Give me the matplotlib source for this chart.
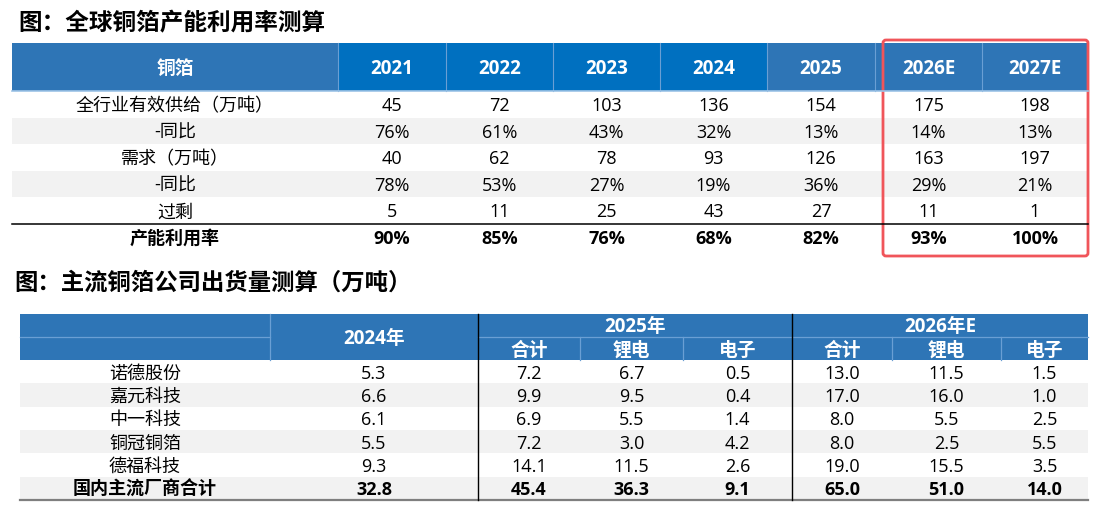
import matplotlib
matplotlib.use('Agg')
import matplotlib.pyplot as plt
from matplotlib.patches import Rectangle, FancyBboxPatch

# latin glyphs from Open Sans, chinese falls back to Noto CJK
plt.rcParams['font.family'] = ['Open Sans', 'Noto Sans CJK SC', 'DejaVu Sans']

# ---- table 1 data: global copper foil capacity utilisation
t1_title = '图：全球铜箔产能利用率测算'
t1_corner = '铜箔'
t1_years = ['2021', '2022', '2023', '2024', '2025', '2026E', '2027E']
t1_rows = ['全行业有效供给（万吨）', '-同比', '需求（万吨）', '-同比', '过剩', '产能利用率']
supply = [45, 72, 103, 136, 154, 175, 198]
supply_yoy = [76, 61, 43, 32, 13, 14, 13]
demand = [40, 62, 78, 93, 126, 163, 197]
demand_yoy = [78, 53, 27, 19, 36, 29, 21]
surplus = [5, 11, 25, 43, 27, 11, 1]
utilization = [90, 85, 76, 68, 82, 93, 100]

# ---- table 2 data: shipments of main copper foil companies (万吨)
t2_title = '图：主流铜箔公司出货量测算（万吨）'
companies = ['诺德股份', '嘉元科技', '中一科技', '铜冠铜箔', '德福科技', '国内主流厂商合计']
t2_groups = ['2024年', '2025年', '2026年E']
t2_sub = ['合计', '锂电', '电子']
ship_2024 = [5.3, 6.6, 6.1, 5.5, 9.3, 32.8]
total_2025 = [7.2, 9.9, 6.9, 7.2, 14.1, 45.4]
li_2025 = [6.7, 9.5, 5.5, 3.0, 11.5, 36.3]
elec_2025 = [0.5, 0.4, 1.4, 4.2, 2.6, 9.1]
total_2026 = [13.0, 17.0, 8.0, 8.0, 19.0, 65.0]
li_2026 = [11.5, 16.0, 5.5, 2.5, 15.5, 51.0]
elec_2026 = [1.5, 1.0, 2.5, 5.5, 3.5, 14.0]

HDR = '#2E75B6'
HDR_BRIGHT = '#0070C0'
SEP = '#6A9FD4'
GRAY = '#F2F2F2'

fig = plt.figure(figsize=(10.96, 5.09), dpi=100)
ax = fig.add_axes([0, 0, 1, 1])
ax.set_xlim(0, 1096)
ax.set_ylim(509, 0)
ax.axis('off')


def cell_text(x, y, s, bold=False, color='black', size=13):
    ax.text(x, y, s, ha='center', va='center', fontsize=size, color=color,
            fontweight='bold' if bold else 'normal')


# ================= table 1 =================
ax.text(18, 24, t1_title, ha='left', va='center', fontsize=17, fontweight='bold')

edges1 = [12, 338, 446, 553, 660, 767, 875, 982, 1088]
h_top, h_bot = 43, 91
row_h = 26.5

for i in range(len(edges1) - 1):
    c = HDR_BRIGHT if 1 <= i <= 4 else HDR
    ax.add_patch(Rectangle((edges1[i], h_top), edges1[i + 1] - edges1[i], h_bot - h_top,
                           facecolor=c, edgecolor='none'))
    if i > 0:
        ax.plot([edges1[i], edges1[i]], [h_top, h_bot], color=SEP, lw=0.8)
ax.plot([edges1[0], edges1[-1]], [h_bot, h_bot], color='#9DC3E6', lw=1.2)

headers1 = [t1_corner] + t1_years
for i, s in enumerate(headers1):
    cell_text((edges1[i] + edges1[i + 1]) / 2, (h_top + h_bot) / 2 + 2, s,
              bold=True, color='white', size=13.5)

body1 = [
    [str(v) for v in supply],
    ['%d%%' % v for v in supply_yoy],
    [str(v) for v in demand],
    ['%d%%' % v for v in demand_yoy],
    [str(v) for v in surplus],
    ['%d%%' % v for v in utilization],
]

for r, label in enumerate(t1_rows):
    y0 = h_bot + r * row_h
    if r in (1, 3):
        ax.add_patch(Rectangle((edges1[0], y0), edges1[-1] - edges1[0], row_h,
                               facecolor=GRAY, edgecolor='none'))
    bold = r == len(t1_rows) - 1
    yc = y0 + row_h / 2 + 2
    cell_text((edges1[0] + edges1[1]) / 2, yc, label, bold=bold)
    for c, s in enumerate(body1[r]):
        cell_text((edges1[c + 1] + edges1[c + 2]) / 2, yc, s, bold=bold)

line_y = h_bot + 5 * row_h
ax.plot([edges1[0], edges1[-1]], [line_y, line_y], color='black', lw=1.1)

# red highlight around the forecast years
ax.add_patch(FancyBboxPatch((883, 40), 205, 216, boxstyle='round,pad=0,rounding_size=3',
                            facecolor='none', edgecolor='#F0555A', lw=2.0))

# ================= table 2 =================
ax.text(14, 284, t2_title, ha='left', va='center', fontsize=16.8, fontweight='bold')

edges2 = [20, 270, 478, 580, 683, 792, 892, 1001, 1088]
t2_top, t2_mid, t2_bot = 314, 337, 360
row_h2 = 23.3

ax.add_patch(Rectangle((edges2[0], t2_top), edges2[-1] - edges2[0], t2_bot - t2_top,
                       facecolor=HDR, edgecolor='none'))
# light separators in the header
ax.plot([edges2[0], edges2[1]], [t2_mid, t2_mid], color=SEP, lw=0.9)
ax.plot([edges2[2], edges2[-1]], [t2_mid, t2_mid], color=SEP, lw=0.9)
ax.plot([edges2[1], edges2[1]], [t2_top, t2_bot], color=SEP, lw=0.9)
for i in (3, 4, 6, 7):
    ax.plot([edges2[i], edges2[i]], [t2_mid, t2_bot], color=SEP, lw=0.9)

cell_text((edges2[1] + edges2[2]) / 2, t2_mid + 2, t2_groups[0], bold=True, color='white', size=13.5)
cell_text((edges2[2] + edges2[5]) / 2, (t2_top + t2_mid) / 2 + 2, t2_groups[1], bold=True, color='white', size=13.5)
cell_text((edges2[5] + edges2[8]) / 2, (t2_top + t2_mid) / 2 + 2, t2_groups[2], bold=True, color='white', size=13.5)
for g in (2, 5):
    for k, s in enumerate(t2_sub):
        cell_text((edges2[g + k] + edges2[g + k + 1]) / 2, (t2_mid + t2_bot) / 2 + 2, s,
                  bold=True, color='white', size=13.5)

cols2 = [ship_2024, total_2025, li_2025, elec_2025, total_2026, li_2026, elec_2026]
for r, name in enumerate(companies):
    y0 = t2_bot + r * row_h2
    if r % 2 == 1:
        ax.add_patch(Rectangle((edges2[0], y0), edges2[-1] - edges2[0], row_h2,
                               facecolor=GRAY, edgecolor='none'))
    bold = r == len(companies) - 1
    yc = y0 + row_h2 / 2 + 2
    cell_text((edges2[0] + edges2[1]) / 2, yc, name, bold=bold, size=13)
    for c, col in enumerate(cols2):
        cell_text((edges2[c + 1] + edges2[c + 2]) / 2, yc, '%.1f' % col[r], bold=bold, size=13)

t2_end = t2_bot + len(companies) * row_h2
ax.plot([edges2[0], edges2[-1]], [t2_end, t2_end], color='#7F7F7F', lw=1.6)
for x in (edges2[2], edges2[5]):
    ax.plot([x, x], [t2_top, t2_end], color='black', lw=1.0)

fig.savefig('out.png', dpi=100)
